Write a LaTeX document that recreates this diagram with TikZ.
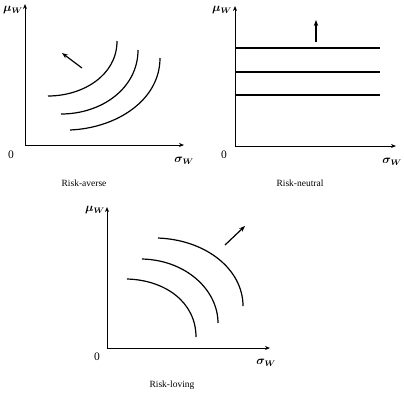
\documentclass[tikz,border=0pt]{standalone}
\usepackage{fontspec}
\setmainfont{Liberation Serif}
\usetikzlibrary{arrows.meta, positioning}

\begin{document}
\begin{tikzpicture}[
      x=1pt, y=-1pt,
      axis/.style={line width=1pt, -{Stealth[length=5pt, width=4pt]}},
      curve/.style={line width=1.2pt},
      dirarrow/.style={line width=1.2pt, -{Stealth[length=6pt, width=4.5pt]}},
      lbl/.style={font=\fontsize{9.5}{11}\selectfont},
      axlbl/.style={font=\fontsize{11.5}{13}\selectfont\boldmath},
   ]
      \useasboundingbox (0,0) rectangle (404,392);

      % Risk-averse
      \coordinate (o1) at (25,145);
      \coordinate (y1) at (25,4);
      \coordinate (x1) at (184,145);
      \draw[axis] (o1) -- (y1);
      \draw[axis] (o1) -- (x1);
      \node[axlbl] (mu1) at (13,10) {$\mu_W$};
      \node[axlbl] (s1) at (184,161) {$\sigma_W$};
      \node[axlbl] (z1) at (11,155) {0};
      \node[lbl] (t1) at (84,183) {Risk-averse};
      \draw[curve] (48,96) .. controls (82,96) and (117,76) .. (117,41);
      \draw[curve] (61,114) .. controls (102,114) and (138,88) .. (138,50);
      \draw[curve] (70,130) .. controls (117,128) and (160,100) .. (160,58);
      \coordinate (a1s) at (82,68);
      \coordinate (a1e) at (62,53);
      \draw[dirarrow] (a1s) -- (a1e);

      % Risk-neutral
      \coordinate (o2) at (235,146);
      \coordinate (y2) at (235,6);
      \coordinate (x2) at (396,146);
      \draw[axis] (o2) -- (y2);
      \draw[axis] (o2) -- (x2);
      \node[axlbl] (mu2) at (222,10) {$\mu_W$};
      \node[axlbl] (s2) at (392,162) {$\sigma_W$};
      \node[axlbl] (z2) at (224,155) {0};
      \node[lbl] (t2) at (300,183) {Risk-neutral};
      \foreach \yy in {48,72,95}
         \draw[curve] (235,\yy) -- (380,\yy);
      \coordinate (a2s) at (316,42);
      \coordinate (a2e) at (316,20);
      \draw[dirarrow] (a2s) -- (a2e);

      % Risk-loving
      \coordinate (o3) at (107,348);
      \coordinate (y3) at (107,207);
      \coordinate (x3) at (270,348);
      \draw[axis] (o3) -- (y3);
      \draw[axis] (o3) -- (x3);
      \node[axlbl] (mu3) at (95,210) {$\mu_W$};
      \node[axlbl] (s3) at (266,363) {$\sigma_W$};
      \node[axlbl] (z3) at (97,357) {0};
      \node[lbl] (t3) at (172,385) {Risk-loving};
      \draw[curve] (127,279) .. controls (165,280) and (196,302) .. (196,337);
      \draw[curve] (142,259) .. controls (186,260) and (218,290) .. (218,323);
      \draw[curve] (158,238) .. controls (207,240) and (243,270) .. (243,306);
      \coordinate (a3s) at (225,245);
      \coordinate (a3e) at (245,226);
      \draw[dirarrow] (a3s) -- (a3e);
   \end{tikzpicture}
\end{document}
